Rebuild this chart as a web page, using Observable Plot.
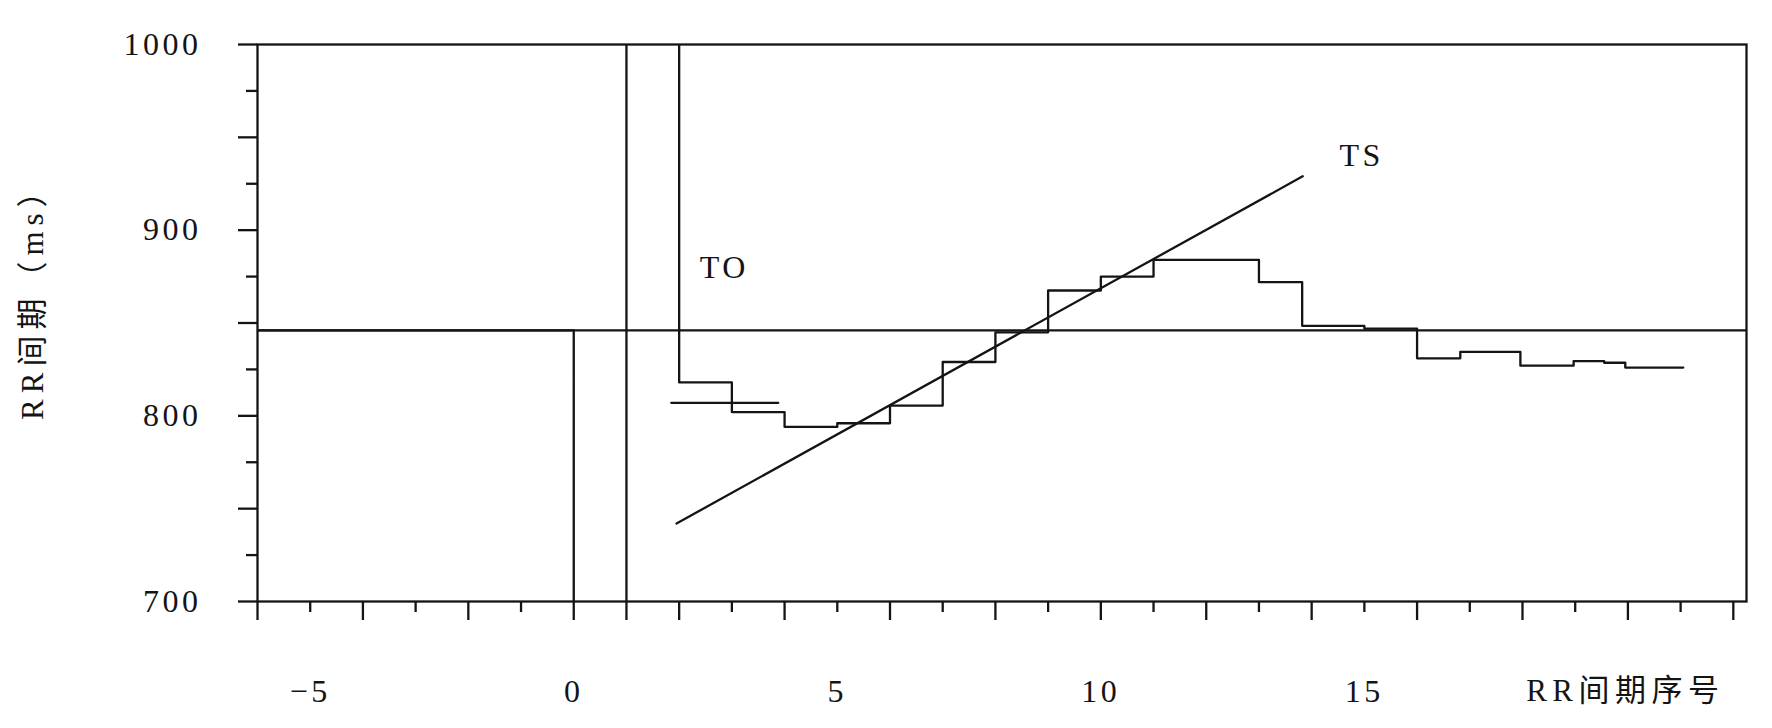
<!DOCTYPE html>
<html>
<head>
<meta charset="utf-8">
<script src="https://cdn.jsdelivr.net/npm/d3@7"></script>
<script src="https://cdn.jsdelivr.net/npm/@observablehq/plot@0.6"></script>
<style>
  html, body { margin: 0; padding: 0; background: #fff; }
  #chart svg text { letter-spacing: 3.5px; }
  #chart svg text.xtitle { letter-spacing: 5.5px; }
  #chart svg text.ytitle { letter-spacing: 6px; }
</style>
</head>
<body>
<div id="chart"></div>
<script>
// ---- data ----
// averaged tachogram (step boundaries, RR interval in ms)
const stepX = [-6, 0, 1, 2, 3, 4, 5, 6, 7, 8, 9, 10, 11, 13, 13.82, 15, 16, 16.82, 17.96, 18.97, 19.55, 19.95, 21.05];
const rrMs  = [846, 620, 1080, 818, 802, 794, 796, 805.5, 829, 845, 867.5, 875, 884, 872, 848.5, 847, 831, 834.5, 827, 829.5, 828.6, 826, 826];
// mean pre-PVC RR level
const baselineMs = [846];
// TO reference segment
const toX = [1.85, 3.88];
const toMs = [807, 807];
// TS regression line
const tsX = [1.95, 13.83];
const tsMs = [742, 929];
// annotation labels
const toLabel = {t: "TO", x: 2.39, y: 880};
const tsLabel = {t: "TS", x: 14.95, y: 940};
// ticks
const yLabelValues = [700, 800, 900, 1000];
const yLongTicks = [700, 750, 800, 850, 900, 950, 1000];
const yShortTicks = [725, 775, 825, 875, 925, 975];
const xLongTicks = [-6, -4, -2, 0, 1, 2, 4, 6, 8, 10, 12, 14, 16, 18, 20, 22];
const xShortTicks = [-5, -3, -1, 3, 5, 7, 9, 11, 13, 15, 17, 19, 21];
const xTickValues = [-5, 0, 5, 10, 15];
const xTickLabels = ["−5", "0", "5", "10", "15"];
const xTitle = "RR间期序号";
const yTitle = "RR间期（ms）";

const tachogram = stepX.map((x, i) => ({x, y: rrMs[i]}));
const toSeg = toX.map((x, i) => ({x, y: toMs[i]}));
const tsSeg = tsX.map((x, i) => ({x, y: tsMs[i]}));
const xLabs = xTickValues.map((v, i) => ({v, t: xTickLabels[i]}));

const ink = "#141414";
const sw = 2.3;
const font = "'Liberation Serif', 'Noto Sans CJK SC', serif";
const noText = () => "";

const chart = Plot.plot({
  width: 1772,
  height: 728,
  marginLeft: 257,
  marginRight: 26,
  marginTop: 44,
  marginBottom: 127,
  style: {fontFamily: font, background: "#fff", color: ink},
  x: {domain: [-6, 22.25]},
  y: {domain: [700, 1000]},
  marks: [
    Plot.ruleY(baselineMs, {stroke: ink, strokeWidth: sw}),
    Plot.line(tachogram, {x: "x", y: "y", curve: "step-after", stroke: ink, strokeWidth: sw, clip: true}),
    Plot.line(toSeg, {x: "x", y: "y", stroke: ink, strokeWidth: sw}),
    Plot.line(tsSeg, {x: "x", y: "y", stroke: ink, strokeWidth: sw}),
    Plot.frame({stroke: ink, strokeWidth: sw}),
    Plot.axisY({ticks: yLongTicks, tickSize: 19, tickFormat: noText, label: null, strokeWidth: sw, stroke: ink}),
    Plot.axisY({ticks: yShortTicks, tickSize: 11, tickFormat: noText, label: null, strokeWidth: sw, stroke: ink}),
    Plot.axisX({ticks: xLongTicks, tickSize: 19, tickFormat: noText, label: null, strokeWidth: sw, stroke: ink}),
    Plot.axisX({ticks: xShortTicks, tickSize: 11, tickFormat: noText, label: null, strokeWidth: sw, stroke: ink}),
    Plot.text(yLabelValues, {y: d => d, text: d => String(d), frameAnchor: "left", dx: -56, textAnchor: "end", lineAnchor: "middle", fontSize: 32, fill: ink}),
    Plot.text(xLabs, {x: "v", text: "t", frameAnchor: "bottom", dy: 90, lineAnchor: "middle", fontSize: 32, fill: ink}),
    Plot.text([toLabel], {x: "x", y: "y", text: "t", textAnchor: "start", lineAnchor: "middle", fontSize: 32, fill: ink}),
    Plot.text([tsLabel], {x: "x", y: "y", text: "t", textAnchor: "middle", lineAnchor: "middle", fontSize: 32, fill: ink}),
    Plot.text([xTitle], {frameAnchor: "bottom-right", dx: -22, dy: 90, textAnchor: "end", lineAnchor: "middle", fontSize: 31, fill: ink, className: "xtitle"}),
    Plot.text([yTitle], {frameAnchor: "left", y: () => 865, dx: -224, rotate: -90, textAnchor: "middle", lineAnchor: "middle", fontSize: 31, fill: ink})
  ]
});
document.getElementById("chart").appendChild(chart);
d3.select(chart).selectAll("text").filter(function() {
  return this.textContent === yTitle;
}).classed("ytitle", true);
d3.select(chart).selectAll("text").filter(function() {
  return this.textContent === xTitle;
}).classed("xtitle", true);
</script>
</body>
</html>
